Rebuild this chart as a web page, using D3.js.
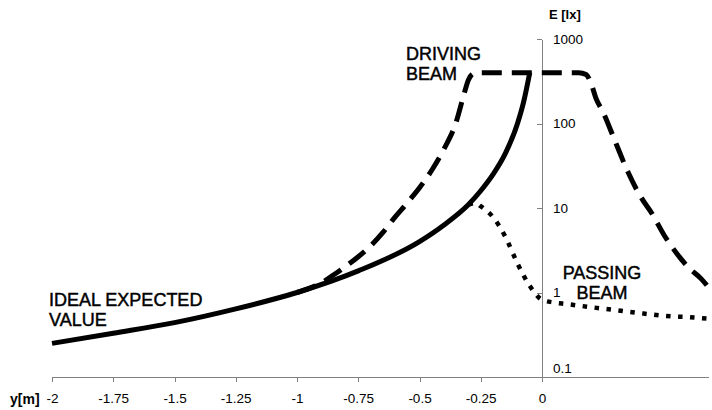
<!DOCTYPE html>
<html>
<head>
<meta charset="utf-8">
<script src="https://cdn.jsdelivr.net/npm/d3@7"></script>
<style>
  body { margin: 0; background: #fff; }
  svg { display: block; font-family: "Liberation Sans", Arial, sans-serif; }
  .axis path, .axis line { stroke: #808080; stroke-width: 1; shape-rendering: crispEdges; }
  .axis text { fill: #000; font-size: 13.5px; }
  .note { font-size: 18px; fill: #000; stroke: #000; stroke-width: 0.45px; }
</style>
</head>
<body>
<svg id="chart" width="712" height="410"></svg>
<script>
// x = lateral position y[m], value = illuminance E[lx]
const idealX = [-2, -1.75, -1.5, -1.25, -1, -0.75, -0.5, -0.4, -0.3, -0.25, -0.2, -0.15, -0.1, -0.075, -0.05];
const idealE = [0.25, 0.33, 0.44, 0.64, 1, 1.8, 4, 6.3, 11, 16, 25, 44, 100, 180, 400];

const drivingX = [-1, -0.95, -0.9, -0.85, -0.8, -0.75, -0.7, -0.65, -0.6, -0.55, -0.5, -0.45, -0.4, -0.35, -0.32, -0.3, -0.28, -0.25,
                  0.15, 0.18, 0.2, 0.22, 0.25, 0.3, 0.35, 0.4, 0.45, 0.5, 0.55, 0.6, 0.65, 0.68];
const drivingE = [1, 1.12, 1.3, 1.62, 2.05, 2.65, 3.55, 5.1, 7.8, 11.5, 17.4, 28, 50, 105, 214, 330, 390, 400,
                  400, 380, 300, 200, 135, 60, 27, 14, 8.5, 4.7, 2.9, 1.95, 1.45, 1.15];

const passingX = [-0.3, -0.27, -0.25, -0.2, -0.15, -0.1, -0.05, 0, 0.05, 0.1, 0.2, 0.3, 0.4, 0.5, 0.6, 0.68];
const passingE = [11, 11.5, 10.5, 7.8, 4.6, 2.2, 1.2, 0.82, 0.76, 0.73, 0.67, 0.62, 0.57, 0.53, 0.51, 0.49];

const xTicks = [-2, -1.75, -1.5, -1.25, -1, -0.75, -0.5, -0.25, 0];
const yTicks = [0.1, 1, 10, 100, 1000];

const svg = d3.select("#chart");

const x = d3.scaleLinear().domain([-2, 0.68]).range([52, 708.6]);
const y = d3.scaleLog().domain([0.1, 1000]).range([377, 39]);

// x axis
const gx = svg.append("g")
    .attr("class", "axis")
    .attr("transform", "translate(0," + y(0.1) + ")")
    .call(d3.axisBottom(x).tickValues(xTicks).tickSizeInner(5).tickSizeOuter(0)
        .tickFormat(d => String(d)));
gx.selectAll("text").attr("y", 16);

// y axis, ticks on the left, labels on the right
const gy = svg.append("g")
    .attr("class", "axis")
    .attr("transform", "translate(" + x(0) + ",0)")
    .call(d3.axisLeft(y).tickValues(yTicks).tickSizeInner(5).tickSizeOuter(0)
        .tickFormat(d => String(d)));
gy.selectAll("text")
    .attr("x", 11)
    .attr("text-anchor", "start")
    .attr("dy", d => d === 0.1 ? "-0.32em" : "0.32em");

// axis titles
svg.append("text").attr("x", 10).attr("y", 404)
    .attr("font-size", 14).attr("font-weight", "bold").text("y[m]");
svg.append("text").attr("x", 549).attr("y", 19)
    .attr("font-size", 13).attr("font-weight", "bold").text("E [lx]");

const line = d3.line()
    .x(d => x(d[0]))
    .y(d => y(d[1]))
    .curve(d3.curveMonotoneX);

const zip = (a, b) => a.map((v, i) => [v, b[i]]);

svg.append("path")
    .datum(zip(passingX, passingE))
    .attr("d", line)
    .attr("fill", "none")
    .attr("stroke", "#000")
    .attr("stroke-width", 4.5)
    .attr("stroke-dasharray", "4.5,7.5");

svg.append("path")
    .datum(zip(drivingX, drivingE))
    .attr("d", line)
    .attr("fill", "none")
    .attr("stroke", "#000")
    .attr("stroke-width", 5)
    .attr("stroke-dasharray", "20,10");

svg.append("path")
    .datum(zip(idealX, idealE))
    .attr("d", line)
    .attr("fill", "none")
    .attr("stroke", "#000")
    .attr("stroke-width", 5)
    .attr("stroke-linejoin", "round");

// annotations
const note = (lines, xp, yp, anchor) => {
  const t = svg.append("text").attr("class", "note")
      .attr("text-anchor", anchor);
  lines.forEach((s, i) => t.append("tspan").attr("x", xp).attr("y", yp + i * 20).text(s));
};
note(["IDEAL EXPECTED", "VALUE"], 49, 306, "start");
note(["DRIVING", "BEAM"], 406, 60, "start");
note(["PASSING", "BEAM"], 602, 279, "middle");
</script>
</body>
</html>
